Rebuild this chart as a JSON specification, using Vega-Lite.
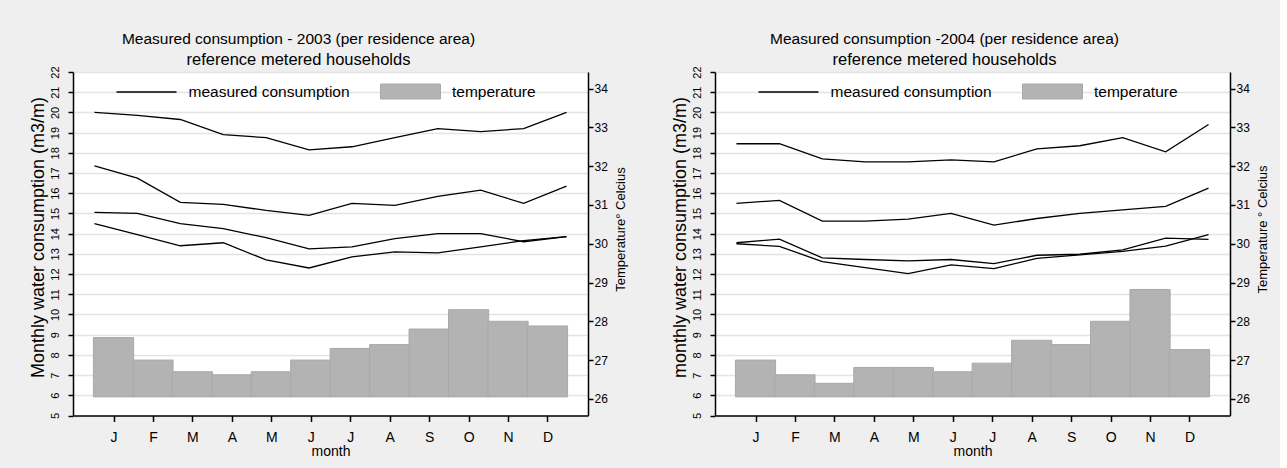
{
  "$schema": "https://vega.github.io/schema/vega-lite/v6.json",
  "background": "#efefef",
  "padding": {"left": 28, "top": 32, "right": 10, "bottom": 12},
  "datasets": {
    "temp2003": [
      {"month": 1, "temp": 27.58}, {"month": 2, "temp": 27.0}, {"month": 3, "temp": 26.7},
      {"month": 4, "temp": 26.62}, {"month": 5, "temp": 26.7}, {"month": 6, "temp": 27.0},
      {"month": 7, "temp": 27.3}, {"month": 8, "temp": 27.4}, {"month": 9, "temp": 27.8},
      {"month": 10, "temp": 28.3}, {"month": 11, "temp": 28.0}, {"month": 12, "temp": 27.88}
    ],
    "temp2004": [
      {"month": 1, "temp": 27.0}, {"month": 2, "temp": 26.62}, {"month": 3, "temp": 26.4},
      {"month": 4, "temp": 26.81}, {"month": 5, "temp": 26.81}, {"month": 6, "temp": 26.7},
      {"month": 7, "temp": 26.92}, {"month": 8, "temp": 27.51}, {"month": 9, "temp": 27.4},
      {"month": 10, "temp": 28.0}, {"month": 11, "temp": 28.82}, {"month": 12, "temp": 27.27}
    ],
    "lines2003": [
      {"month": 1, "series": "a", "value": 20.0}, {"month": 2, "series": "a", "value": 19.85}, {"month": 3, "series": "a", "value": 19.65},
      {"month": 4, "series": "a", "value": 18.9}, {"month": 5, "series": "a", "value": 18.75}, {"month": 6, "series": "a", "value": 18.15},
      {"month": 7, "series": "a", "value": 18.3}, {"month": 8, "series": "a", "value": 18.75}, {"month": 9, "series": "a", "value": 19.2},
      {"month": 10, "series": "a", "value": 19.05}, {"month": 11, "series": "a", "value": 19.2}, {"month": 12, "series": "a", "value": 20.0},
      {"month": 1, "series": "b", "value": 17.35}, {"month": 2, "series": "b", "value": 16.75}, {"month": 3, "series": "b", "value": 15.55},
      {"month": 4, "series": "b", "value": 15.45}, {"month": 5, "series": "b", "value": 15.15}, {"month": 6, "series": "b", "value": 14.9},
      {"month": 7, "series": "b", "value": 15.5}, {"month": 8, "series": "b", "value": 15.4}, {"month": 9, "series": "b", "value": 15.85},
      {"month": 10, "series": "b", "value": 16.15}, {"month": 11, "series": "b", "value": 15.5}, {"month": 12, "series": "b", "value": 16.35},
      {"month": 1, "series": "c", "value": 15.05}, {"month": 2, "series": "c", "value": 15.0}, {"month": 3, "series": "c", "value": 14.5},
      {"month": 4, "series": "c", "value": 14.25}, {"month": 5, "series": "c", "value": 13.8}, {"month": 6, "series": "c", "value": 13.25},
      {"month": 7, "series": "c", "value": 13.35}, {"month": 8, "series": "c", "value": 13.75}, {"month": 9, "series": "c", "value": 14.0},
      {"month": 10, "series": "c", "value": 14.0}, {"month": 11, "series": "c", "value": 13.6}, {"month": 12, "series": "c", "value": 13.85},
      {"month": 1, "series": "d", "value": 14.5}, {"month": 2, "series": "d", "value": 13.95}, {"month": 3, "series": "d", "value": 13.4},
      {"month": 4, "series": "d", "value": 13.55}, {"month": 5, "series": "d", "value": 12.7}, {"month": 6, "series": "d", "value": 12.3},
      {"month": 7, "series": "d", "value": 12.85}, {"month": 8, "series": "d", "value": 13.1}, {"month": 9, "series": "d", "value": 13.05},
      {"month": 10, "series": "d", "value": 13.35}, {"month": 11, "series": "d", "value": 13.65}, {"month": 12, "series": "d", "value": 13.85}
    ],
    "lines2004": [
      {"month": 1, "series": "a", "value": 18.45}, {"month": 2, "series": "a", "value": 18.45}, {"month": 3, "series": "a", "value": 17.7},
      {"month": 4, "series": "a", "value": 17.55}, {"month": 5, "series": "a", "value": 17.55}, {"month": 6, "series": "a", "value": 17.65},
      {"month": 7, "series": "a", "value": 17.55}, {"month": 8, "series": "a", "value": 18.2}, {"month": 9, "series": "a", "value": 18.35},
      {"month": 10, "series": "a", "value": 18.75}, {"month": 11, "series": "a", "value": 18.05}, {"month": 12, "series": "a", "value": 19.4},
      {"month": 1, "series": "b", "value": 15.5}, {"month": 2, "series": "b", "value": 15.65}, {"month": 3, "series": "b", "value": 14.62},
      {"month": 4, "series": "b", "value": 14.62}, {"month": 5, "series": "b", "value": 14.72}, {"month": 6, "series": "b", "value": 15.0},
      {"month": 7, "series": "b", "value": 14.42}, {"month": 8, "series": "b", "value": 14.75}, {"month": 9, "series": "b", "value": 15.0},
      {"month": 10, "series": "b", "value": 15.18}, {"month": 11, "series": "b", "value": 15.35}, {"month": 12, "series": "b", "value": 16.25},
      {"month": 1, "series": "c", "value": 13.55}, {"month": 2, "series": "c", "value": 13.73}, {"month": 3, "series": "c", "value": 12.8},
      {"month": 4, "series": "c", "value": 12.72}, {"month": 5, "series": "c", "value": 12.65}, {"month": 6, "series": "c", "value": 12.72},
      {"month": 7, "series": "c", "value": 12.52}, {"month": 8, "series": "c", "value": 12.93}, {"month": 9, "series": "c", "value": 12.98},
      {"month": 10, "series": "c", "value": 13.2}, {"month": 11, "series": "c", "value": 13.78}, {"month": 12, "series": "c", "value": 13.72},
      {"month": 1, "series": "d", "value": 13.5}, {"month": 2, "series": "d", "value": 13.37}, {"month": 3, "series": "d", "value": 12.62},
      {"month": 4, "series": "d", "value": 12.32}, {"month": 5, "series": "d", "value": 12.02}, {"month": 6, "series": "d", "value": 12.45},
      {"month": 7, "series": "d", "value": 12.27}, {"month": 8, "series": "d", "value": 12.78}, {"month": 9, "series": "d", "value": 12.95},
      {"month": 10, "series": "d", "value": 13.12}, {"month": 11, "series": "d", "value": 13.38}, {"month": 12, "series": "d", "value": 13.95}
    ]
  },
  "hconcat": [
    {
      "width": 515,
      "height": 343.5,
      "title": {"text": "Measured consumption - 2003 (per residence area)", "subtitle": "reference metered households", "dx": -32},
      "layer": [
        {
          "data": {"name": "temp2003"},
          "mark": {"type": "bar", "width": 40.2, "stroke": "#a9a9a9", "strokeWidth": 1},
          "encoding": {
            "x": {"field": "month", "type": "quantitative", "scale": {"domain": [0.1, 12.9], "nice": false, "zero": false},
              "axis": {"values": [1,2,3,4,5,6,7,8,9,10,11,12], "labelExpr": "['J','F','M','A','M','J','J','A','S','O','N','D'][datum.value-1]", "title": "month", "grid": false, "tickSize": 6, "labelFontSize": 14, "labelPadding": 9, "titleFontSize": 14, "titlePadding": 0, "labelFlush": false, "labelOverlap": false}},
            "y": {"field": "temp", "type": "quantitative", "scale": {"domain": [25.57, 34.43], "nice": false, "zero": false},
              "axis": {"orient": "right", "values": [26,27,28,29,30,31,32,33,34], "title": "Temperature° Celcius", "titleAngle": 270, "titleBaseline": "top", "titleAlign": "center", "titleY": 157, "titlePadding": 7, "titleFontSize": 13, "tickSize": 5, "labelPadding": 1, "labelFontSize": 12, "grid": false, "labelFlush": false}},
            "y2": {"datum": 26.05},
            "fill": {"datum": "temperature", "type": "nominal", "scale": {"domain": ["temperature"], "range": ["#b3b3b3"]},
              "legend": {"orient": "none", "legendX": 307, "legendY": -11, "title": null, "symbolType": "M-1,-0.25H1V0.25H-1Z", "symbolSize": 3600, "symbolStrokeColor": "#a9a9a9", "symbolStrokeWidth": 1, "symbolFillColor": "#b3b3b3", "symbolOpacity": 1, "labelFontSize": 15.5, "labelColor": "#000000", "labelOffset": 11, "labelLimit": 400, "padding": 0}}
          }
        },
        {
          "data": {"name": "lines2003"},
          "mark": {"type": "line", "strokeWidth": 1.3},
          "encoding": {
            "x": {"field": "month", "type": "quantitative", "scale": {"domain": [0.5, 12.5], "nice": false, "zero": false}, "axis": null},
            "y": {"field": "value", "type": "quantitative", "scale": {"domain": [5, 22], "nice": false, "zero": false},
              "axis": {"orient": "left", "values": [5,6,7,8,9,10,11,12,13,14,15,16,17,18,19,20,21,22], "title": "Monthly water consumption (m3/m)", "titleFontSize": 18, "titleAngle": 270, "titleAlign": "center", "titleY": 165, "titlePadding": 2, "labelAngle": 270, "labelAlign": "center", "labelBaseline": "bottom", "labelPadding": 8, "labelFontSize": 11, "tickSize": 5, "grid": true, "gridColor": "#e4e4e4", "gridWidth": 1.5, "labelFlush": false}},
            "detail": {"field": "series"},
            "color": {"datum": "measured consumption", "type": "nominal", "scale": {"domain": ["measured consumption"], "range": ["#000000"]},
              "legend": {"orient": "none", "legendX": 42.5, "legendY": -11, "title": null, "symbolType": "stroke", "symbolSize": 3600, "symbolStrokeColor": "#000000", "symbolStrokeWidth": 1.3, "symbolOpacity": 1, "labelFontSize": 15.5, "labelColor": "#000000", "labelOffset": 11, "labelLimit": 400, "padding": 0}}
          }
        }
      ],
      "resolve": {"scale": {"x": "independent", "y": "independent"}, "axis": {"x": "independent", "y": "independent"}}
    },
    {
      "width": 515,
      "height": 343.5,
      "title": {"text": "Measured consumption -2004 (per residence area)", "subtitle": "reference metered households", "dx": -28},
      "layer": [
        {
          "data": {"name": "temp2004"},
          "mark": {"type": "bar", "width": 40.2, "stroke": "#a9a9a9", "strokeWidth": 1},
          "encoding": {
            "x": {"field": "month", "type": "quantitative", "scale": {"domain": [0.1, 12.9], "nice": false, "zero": false},
              "axis": {"values": [1,2,3,4,5,6,7,8,9,10,11,12], "labelExpr": "['J','F','M','A','M','J','J','A','S','O','N','D'][datum.value-1]", "title": "month", "grid": false, "tickSize": 6, "labelFontSize": 14, "labelPadding": 9, "titleFontSize": 14, "titlePadding": 0, "labelFlush": false, "labelOverlap": false}},
            "y": {"field": "temp", "type": "quantitative", "scale": {"domain": [25.57, 34.43], "nice": false, "zero": false},
              "axis": {"orient": "right", "values": [26,27,28,29,30,31,32,33,34], "title": "Temperature ° Celcius", "titleAngle": 270, "titleBaseline": "top", "titleAlign": "center", "titleY": 157, "titlePadding": 7, "titleFontSize": 13, "tickSize": 5, "labelPadding": 1, "labelFontSize": 12, "grid": false, "labelFlush": false}},
            "y2": {"datum": 26.05},
            "fill": {"datum": "temperature", "type": "nominal", "scale": {"domain": ["temperature"], "range": ["#b3b3b3"]},
              "legend": {"orient": "none", "legendX": 307, "legendY": -11, "title": null, "symbolType": "M-1,-0.25H1V0.25H-1Z", "symbolSize": 3600, "symbolStrokeColor": "#a9a9a9", "symbolStrokeWidth": 1, "symbolFillColor": "#b3b3b3", "symbolOpacity": 1, "labelFontSize": 15.5, "labelColor": "#000000", "labelOffset": 11, "labelLimit": 400, "padding": 0}}
          }
        },
        {
          "data": {"name": "lines2004"},
          "mark": {"type": "line", "strokeWidth": 1.3},
          "encoding": {
            "x": {"field": "month", "type": "quantitative", "scale": {"domain": [0.5, 12.5], "nice": false, "zero": false}, "axis": null},
            "y": {"field": "value", "type": "quantitative", "scale": {"domain": [5, 22], "nice": false, "zero": false},
              "axis": {"orient": "left", "values": [5,6,7,8,9,10,11,12,13,14,15,16,17,18,19,20,21,22], "title": "monthly water consumption (m3/m)", "titleFontSize": 18, "titleAngle": 270, "titleAlign": "center", "titleY": 165, "titlePadding": 2, "labelAngle": 270, "labelAlign": "center", "labelBaseline": "bottom", "labelPadding": 8, "labelFontSize": 11, "tickSize": 5, "grid": true, "gridColor": "#e4e4e4", "gridWidth": 1.5, "labelFlush": false}},
            "detail": {"field": "series"},
            "color": {"datum": "measured consumption", "type": "nominal", "scale": {"domain": ["measured consumption"], "range": ["#000000"]},
              "legend": {"orient": "none", "legendX": 42.5, "legendY": -11, "title": null, "symbolType": "stroke", "symbolSize": 3600, "symbolStrokeColor": "#000000", "symbolStrokeWidth": 1.3, "symbolOpacity": 1, "labelFontSize": 15.5, "labelColor": "#000000", "labelOffset": 11, "labelLimit": 400, "padding": 0}}
          }
        }
      ],
      "resolve": {"scale": {"x": "independent", "y": "independent"}, "axis": {"x": "independent", "y": "independent"}}
    }
  ],
  "spacing": 42,
  "resolve": {"scale": {"color": "independent", "fill": "independent"}, "legend": {"color": "independent", "fill": "independent"}},
  "config": {
    "font": "Liberation Sans",
    "view": {"stroke": null, "fill": "#ffffff"},
    "axis": {"domainColor": "#000000", "tickColor": "#000000", "labelColor": "#000000", "titleColor": "#000000", "titleFontWeight": "normal", "domainWidth": 1.5, "tickWidth": 1.5},
    "title": {"fontSize": 15.5, "fontWeight": "normal", "color": "#000000", "subtitleFontSize": 16.5, "subtitleColor": "#000000", "offset": -7, "subtitlePadding": 4}
  }
}
